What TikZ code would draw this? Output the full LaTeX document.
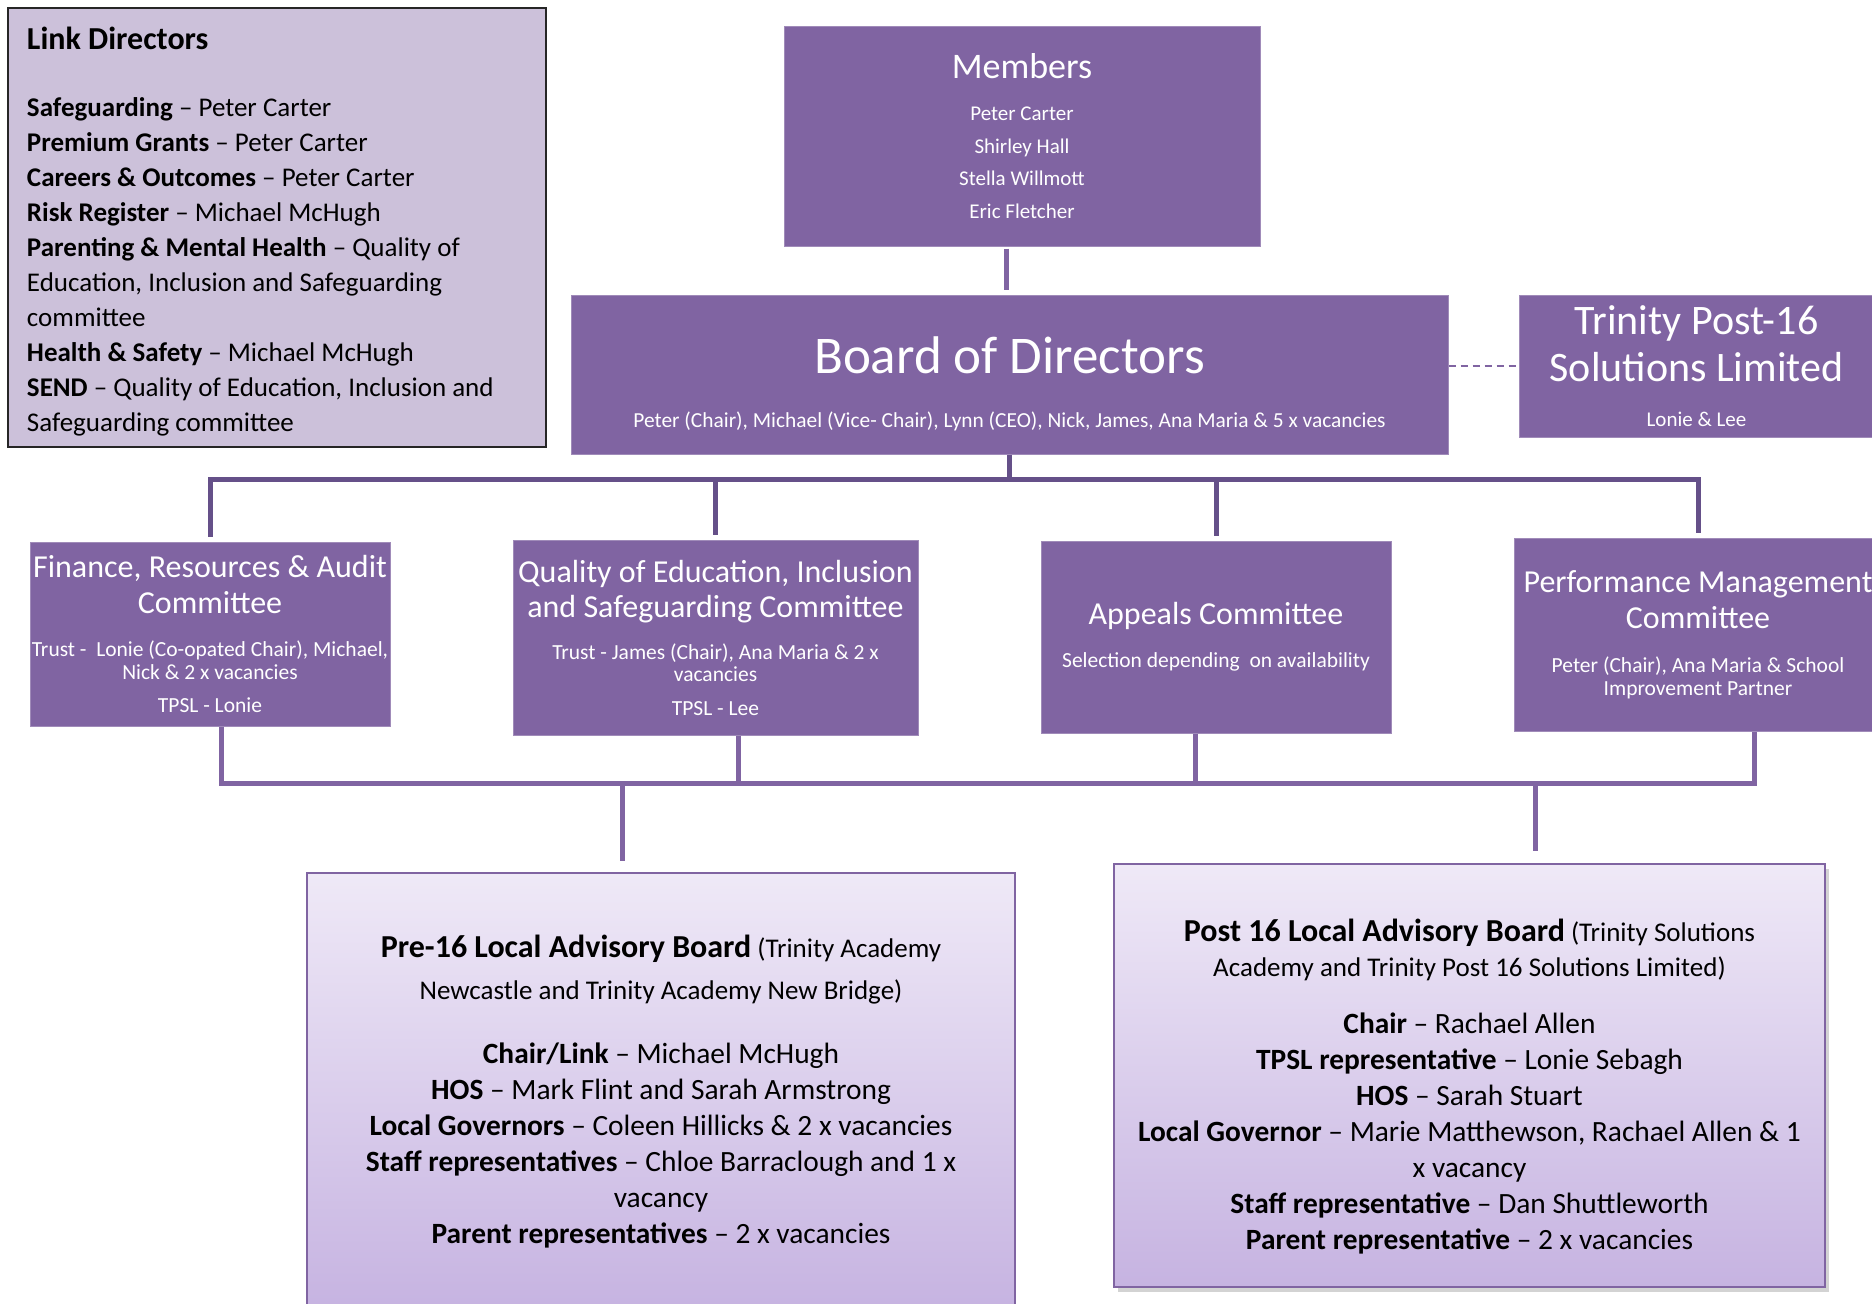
\documentclass[tikz,border=0pt]{standalone}
\usepackage{fontspec}
\setmainfont{Carlito}
\usetikzlibrary{shadows}
\definecolor{boxpurple}{HTML}{8064A2}
\definecolor{darkline}{HTML}{655089}
\definecolor{linkfill}{HTML}{CCC1DA}
\definecolor{lavtop}{HTML}{EFE9F7}
\definecolor{lavbot}{HTML}{C6B3E1}
\newcommand\ctr[1]{\hbox to\hsize{\hss#1\hss}}
\newcommand\lft[1]{\hbox to\hsize{#1\hss}}
\newcommand\fz[2]{\fontsize{#1}{#2}\selectfont}
\newcommand\blk[2]{\vbox{\hsize=#1pt\spaceskip=0pt\xspaceskip=0pt\parindent=0pt #2}}
\begin{document}
\begin{tikzpicture}[x=1pt,y=-1pt,
  pbox/.style={rectangle, fill=boxpurple, draw=boxpurple!75!white, line width=1pt, text=white, inner sep=0pt},
  lavbox/.style={rectangle, top color=lavtop, bottom color=lavbot, draw=boxpurple, line width=1.5pt, inner sep=0pt, text=black},
  linkbox/.style={rectangle, fill=linkfill, draw=black!85, line width=1.5pt, inner sep=0pt, text=black},
  topline/.style={draw=darkline, line width=5pt},
  botline/.style={draw=boxpurple, line width=5pt},
  shadowline/.style={draw=black!30, line width=5pt, opacity=0.6},
  dashline/.style={draw=boxpurple, line width=2pt, dash pattern=on 7pt off 5pt}]

\useasboundingbox (0,0) rectangle (1872,1304);
\clip (0,0) rectangle (1872,1304);

\node[linkbox, minimum width=538, minimum height=439] (link) at (277,227.5) {\blk{500}{%
\vspace*{9pt}%
\fz{32}{36}\lft{\bfseries Link Directors}\vspace{32pt}%
\fz{27}{35}%
\lft{\textbf{Safeguarding} – Peter Carter}%
\lft{\textbf{Premium Grants} – Peter Carter}%
\lft{\textbf{Careers \& Outcomes} – Peter Carter}%
\lft{\textbf{Risk Register} – Michael McHugh}%
\lft{\textbf{Parenting \& Mental Health} – Quality of}%
\lft{Education, Inclusion and Safeguarding}%
\lft{committee}%
\lft{\textbf{Health \& Safety} – Michael McHugh}%
\lft{\textbf{SEND} – Quality of Education, Inclusion and}%
\lft{Safeguarding committee}}};

\node[pbox, minimum width=476, minimum height=220] (members) at (1022,136) {\blk{470}{%
\fz{36}{43}\ctr{Members}\vspace{9.5pt}%
\fz{21}{32.5}\ctr{Peter Carter}\ctr{Shirley Hall}\ctr{Stella Willmott}\ctr{Eric Fletcher}}};

\node[pbox, minimum width=877, minimum height=159] (board) at (1009.5,374.5) {\blk{870}{%
\vspace*{18pt}%
\fz{53}{64}\ctr{Board of Directors}\vspace{30pt}%
\fz{21.4}{24}\ctr{Peter (Chair), Michael (Vice- Chair), Lynn (CEO), Nick, James, Ana Maria \& 5 x vacancies}}};

\node[pbox, minimum width=355, minimum height=142] (tpsl) at (1696.5,366) {\blk{350}{%
\fz{42}{47}\ctr{Trinity Post-16}\ctr{Solutions Limited}\vspace{22pt}%
\fz{21}{23}\ctr{Lonie \& Lee}}};

\node[pbox, minimum width=360, minimum height=184] (fin) at (210,634) {\blk{356}{%
\fz{32}{36}\ctr{Finance, Resources \& Audit}\ctr{Committee}\vspace{20pt}%
\fz{21.5}{23}\ctr{Trust -\ \ Lonie (Co-opated Chair), Michael,}\ctr{Nick \& 2 x vacancies}\vspace{10pt}%
\ctr{TPSL - Lonie}}};

\node[pbox, minimum width=405, minimum height=195] (qual) at (715.5,637.5) {\blk{400}{%
\fz{32}{35}\ctr{Quality of Education, Inclusion}\ctr{and Safeguarding Committee}\vspace{20pt}%
\fz{21.5}{22}\ctr{Trust - James (Chair), Ana Maria \& 2 x}\ctr{vacancies}\vspace{12pt}%
\ctr{TPSL - Lee}}};

\node[pbox, minimum width=350, minimum height=192] (app) at (1216,637) {\blk{344}{%
\fz{32}{36}\ctr{Appeals Committee}\vspace{20pt}%
\fz{21.5}{23}\ctr{Selection depending\ \ on availability}}};

\node[pbox, minimum width=368, minimum height=193] (perf) at (1698,634.5) {\blk{364}{%
\fz{32}{36}\ctr{Performance Management}\ctr{Committee}\vspace{21pt}%
\fz{21.5}{23}\ctr{Peter (Chair), Ana Maria \& School}\ctr{Improvement Partner}}};

\node[lavbox, minimum width=708, minimum height=437] (pre) at (661,1091.5) {\blk{700}{%
\fz{27}{42}\ctr{{\fz{32}{42}\bfseries Pre-16 Local Advisory Board} (Trinity Academy}%
\ctr{Newcastle and Trinity Academy New Bridge)}\vspace{28pt}%
\fz{29.4}{36}%
\ctr{\textbf{Chair/Link} – Michael McHugh}%
\ctr{\textbf{HOS} – Mark Flint and Sarah Armstrong}%
\ctr{\textbf{Local Governors} – Coleen Hillicks \& 2 x vacancies}%
\ctr{\textbf{Staff representatives} – Chloe Barraclough and 1 x}%
\ctr{vacancy}%
\ctr{\textbf{Parent representatives} – 2 x vacancies}}};

\node[lavbox, drop shadow={opacity=0.35, shadow xshift=4pt, shadow yshift=-5pt}, minimum width=711, minimum height=423] (post) at (1469.5,1075.5) {\blk{700}{%
\vspace*{22pt}%
\fz{27}{35}\ctr{{\fz{32}{35}\bfseries Post 16 Local Advisory Board} (Trinity Solutions}%
\ctr{Academy and Trinity Post 16 Solutions Limited)}\vspace{21pt}%
\fz{29.4}{36}%
\ctr{\textbf{Chair} – Rachael Allen}%
\ctr{\textbf{TPSL representative} – Lonie Sebagh}%
\ctr{\textbf{HOS} – Sarah Stuart}%
\ctr{\textbf{Local Governor} – Marie Matthewson, Rachael Allen \& 1}%
\ctr{x vacancy}%
\ctr{\textbf{Staff representative} – Dan Shuttleworth}%
\ctr{\textbf{Parent representative} – 2 x vacancies}}};

% connectors
\coordinate (bus1) at (0,479);
\coordinate (bus2) at (0,783);
\coordinate (mdrop) at ([xshift=-16pt]members.south);
\coordinate (fd) at ([xshift=11pt]fin.south);
\coordinate (qd) at ([xshift=23pt]qual.south);
\coordinate (ad) at ([xshift=-21pt]app.south);
\coordinate (pd) at ([xshift=56pt]perf.south);
\coordinate (pred) at ([xshift=-39pt]pre.north);
\coordinate (postd) at ([xshift=65.5pt]post.north);

\draw[botline, shorten <=2pt, shorten >=5pt] (mdrop) -- (mdrop |- board.north);
\draw[dashline] (board.east |- tpsl.west) -- (tpsl.west);

\draw[topline] (board.south) -- (board.south |- bus1);
\draw[topline, shorten <=5pt, shorten >=5pt] (fin.north) -- (fin.north |- bus1) -- (perf.north |- bus1) -- (perf.north);
\draw[topline, shorten >=5pt] (qual.north |- bus1) -- (qual.north);
\draw[topline, shorten >=5pt] (app.north |- bus1) -- (app.north);

\begin{scope}[shift={(2,4)}]
\draw[shadowline] (fd |- bus2) -- (pd |- bus2);
\end{scope}
\draw[botline] (fd) -- (fd |- bus2) -- (pd |- bus2) -- (pd);
\draw[botline] (qd) -- (qd |- bus2);
\draw[botline] (ad) -- (ad |- bus2);
\draw[botline, shorten >=11pt] (pred |- bus2) -- (pred);
\draw[botline, shorten >=12pt] (postd |- bus2) -- (postd);
\end{tikzpicture}
\end{document}
